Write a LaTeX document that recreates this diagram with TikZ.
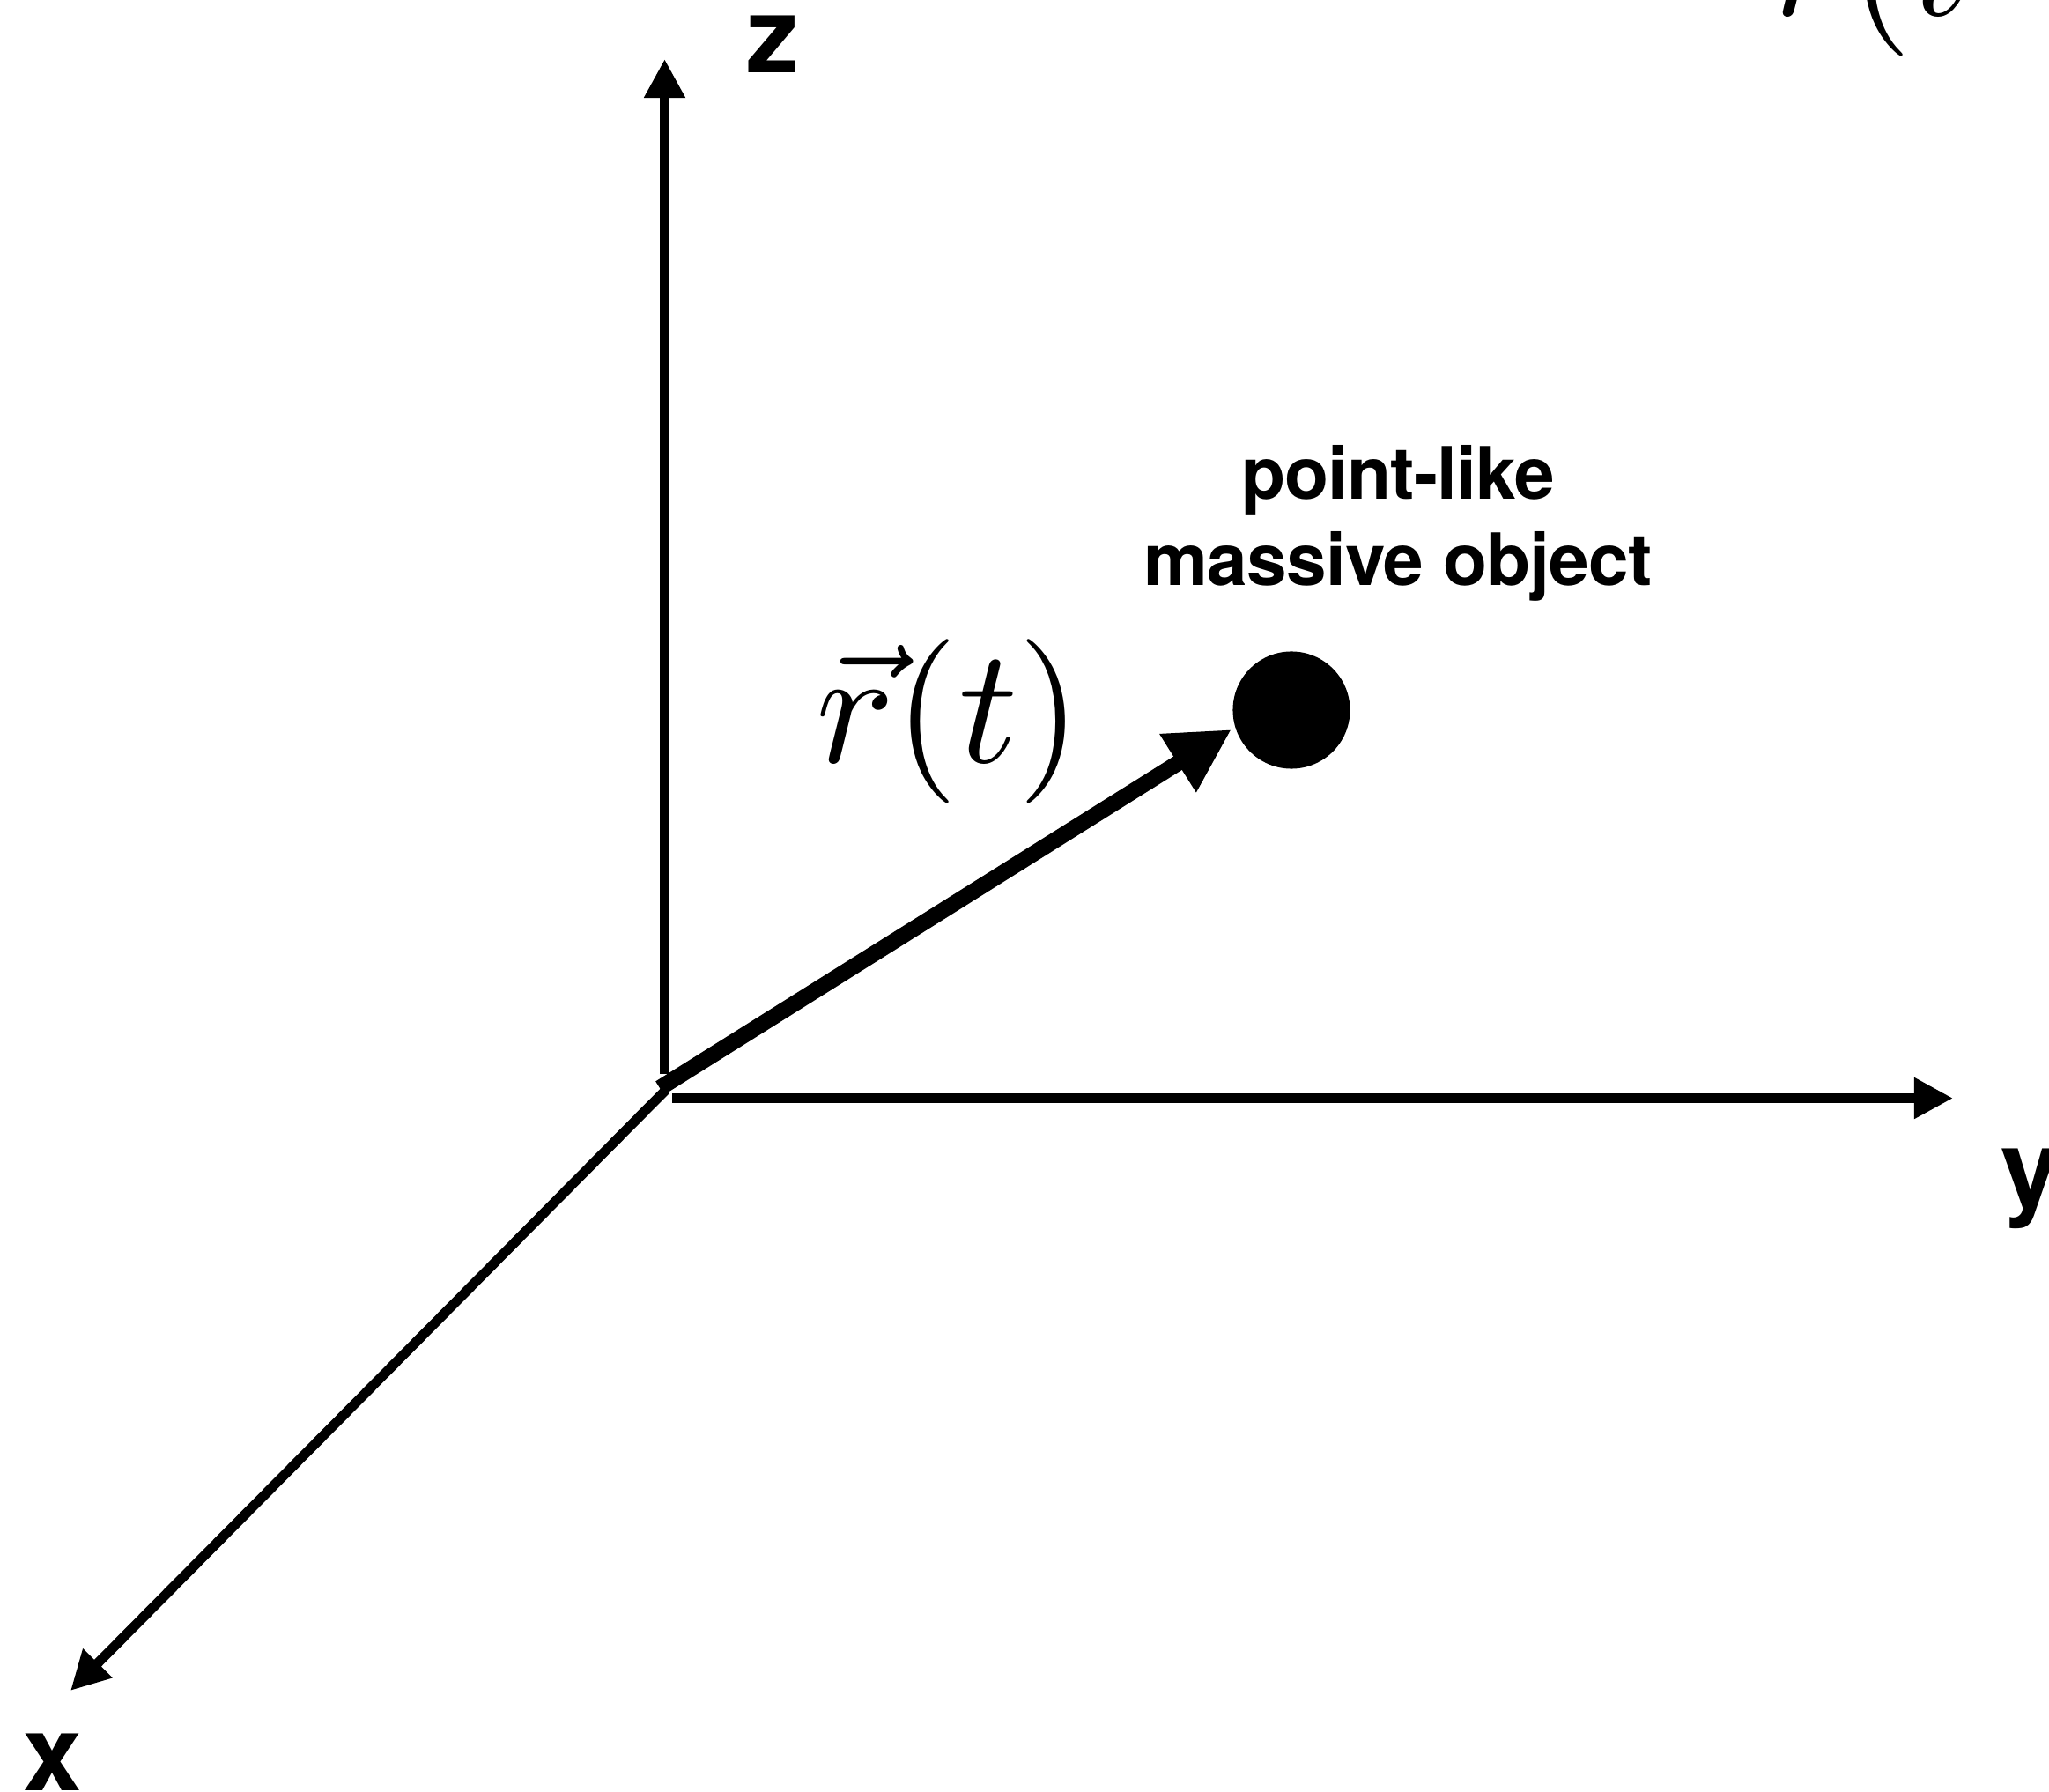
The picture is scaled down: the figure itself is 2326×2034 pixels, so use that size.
\documentclass[tikz,border=0pt]{standalone}
\usepackage[no-math]{fontspec}
\DeclareFontShape{OML}{cmm}{m}{it}{<->cmmi10}{\skewchar\font=127}
\DeclareFontShape{OT1}{cmr}{m}{n}{<->cmr10}{}
\DeclareFontShape{OMS}{cmsy}{m}{n}{<->cmsy10}{\skewchar\font=48}
\newfontfamily\labfont{TeX Gyre Heros}
\newfontfamily\objfont{TeX Gyre Heros}[LetterSpace=-1]
\usetikzlibrary{arrows.meta}
\begin{document}
\begin{tikzpicture}[x=0.01cm,y=-0.01cm,
  axis/.style={line width=0.11cm, line cap=butt, -{Triangle[width=0.44cm,length=0.44cm]}},
  rvec/.style={line width=0.18cm, line cap=butt, -{Triangle[width=0.73cm,length=0.72cm]}},
  axlabel/.style={font=\labfont\bfseries\fontsize{34}{40}\selectfont, inner sep=0},
  objlabel/.style={font=\objfont\bfseries\fontsize{23.3}{28}\selectfont, inner sep=0, anchor=base},
  mathlabel/.style={font=\fontsize{53}{60}\selectfont, inner sep=0, anchor=base west}]
\clip (0,0) rectangle (2326,2034);
% axis end points
\coordinate (O) at (749,1235);
\coordinate (zs) at (754.5,1219);
\coordinate (zt) at (754.5,67);
\coordinate (ys) at (763,1246.5);
\coordinate (yt) at (2217,1246.5);
\coordinate (xs) at (756,1237);
\coordinate (xt) at (80,1919);
\coordinate (rtip) at (1398,828);
% object
\node[circle, fill=black, minimum size=1.33cm, inner sep=0] (obj) at (1466,806) {};
% axes
\draw[axis] (zs) -- (zt);
\draw[axis] (ys) -- (yt);
\draw[axis] (xs) -- (xt);
% position vector
\draw[rvec] (O) -- (rtip);
% labels
\node[axlabel] (zl) at (877.5,50) {z};
\node[axlabel] (yl) at (2305,1349) {y};
\node[axlabel] (xl) at (60,2000) {x};
\node[objlabel] (ol1) at (1587,567) {point-like};
\node[objlabel] (ol2) at (1587,665) {massive object};
\node[mathlabel] (rl) at (926,866) {$\vec{r}(t)$};
\node[mathlabel] (rl2) at (2009,18) {$\vec{r}(t$};
\end{tikzpicture}
\end{document}
